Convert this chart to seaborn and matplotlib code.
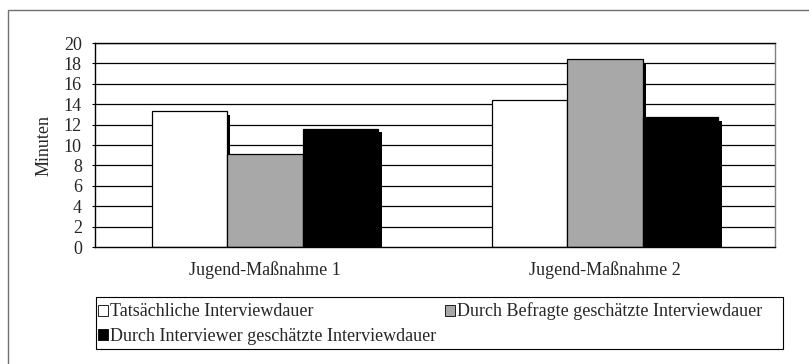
import matplotlib
matplotlib.use("Agg")
import matplotlib.pyplot as plt
import matplotlib.patheffects as pe
from matplotlib.patches import Patch, Rectangle
import seaborn as sns
import pandas as pd

# Data
categories = ["Jugend-Maßnahme 1", "Jugend-Maßnahme 2"]
series = [
    "Tatsächliche Interviewdauer",
    "Durch Befragte geschätzte Interviewdauer",
    "Durch Interviewer geschätzte Interviewdauer",
]
tatsaechlich = [13.3, 14.4]
befragte = [9.1, 18.4]
interviewer = [11.6, 12.7]
y_ticks = [0, 2, 4, 6, 8, 10, 12, 14, 16, 18, 20]

colors = ["#ffffff", "#a8a8a8", "#000000"]

df = pd.DataFrame({
    "Kategorie": categories * 3,
    "Serie": [series[0]] * 2 + [series[1]] * 2 + [series[2]] * 2,
    "Minuten": tatsaechlich + befragte + interviewer,
})

sns.set_style("white")
plt.rcParams["font.family"] = ["Liberation Serif", "DejaVu Serif"]
FS = 13
plt.rcParams["font.size"] = FS

W, H = 809, 364
fig = plt.figure(figsize=(W / 100, H / 100), dpi=100)

def fx(px):
    return px / W

def fy(py):
    return 1 - py / H

ax = fig.add_axes([fx(95), fy(247), fx(775) - fx(95), fy(43) - fy(247)])

# Horizontal grid lines behind the bars
for t in y_ticks[1:]:
    ax.axhline(t, color="black", linewidth=0.9, zorder=0)

sns.barplot(
    data=df, x="Kategorie", y="Minuten", hue="Serie",
    hue_order=series, order=categories,
    palette=colors, saturation=1, width=0.667,
    edgecolor="black", linewidth=0.9, legend=False, ax=ax, zorder=2,
)

# Drop shadow on each bar
for p in ax.patches:
    p.set_path_effects([
        pe.SimplePatchShadow(offset=(2.3, -2.6), shadow_rgbFace="black", alpha=1.0),
        pe.Normal(),
    ])

ax.set_xlim(-0.5, 1.5)
ax.set_ylim(0, 20)
ax.set_yticks(y_ticks)
ax.set_yticklabels([str(t) for t in y_ticks])
ax.tick_params(axis="y", length=2.5, width=0.8, color="black", pad=7, labelsize=FS, direction="out", left=True)
ax.tick_params(axis="x", length=0, pad=10, labelsize=FS)
ax.set_xlabel("")
ax.set_ylabel("Minuten", fontsize=FS)
ax.yaxis.set_label_coords(-(95 - 53) / 680, 0.5)

for side in ["left", "bottom", "top"]:
    ax.spines[side].set_visible(True)
    ax.spines[side].set_color("black")
    ax.spines[side].set_linewidth(1.0)
ax.spines["right"].set_visible(True)
ax.spines["right"].set_color("#808080")
ax.spines["right"].set_linewidth(1.0)

# Legend below the chart
handles = [Patch(facecolor=c, edgecolor="black", linewidth=0.6) for c in colors]
order = [0, 2, 1]
leg = fig.legend(
    [handles[i] for i in order], [series[i] for i in order],
    ncol=2, loc="upper left",
    bbox_to_anchor=(fx(94), fy(299)), bbox_transform=fig.transFigure,
    frameon=False, fontsize=FS,
    handlelength=0.55, handleheight=0.55, handletextpad=0.15,
    borderpad=0.2, borderaxespad=0, labelspacing=0.42, columnspacing=0.45,
)
fig.add_artist(Rectangle((fx(96), fy(349)), fx(783) - fx(96), fy(297) - fy(349),
                         transform=fig.transFigure, fill=False,
                         edgecolor="black", linewidth=0.8))

# Outer chart frame
fig.add_artist(Rectangle((fx(8), fy(400)), 1.2, fy(10) - fy(400),
                         transform=fig.transFigure, fill=False,
                         edgecolor="#707070", linewidth=1.0, clip_on=False))

fig.savefig("out.png", dpi=100)
